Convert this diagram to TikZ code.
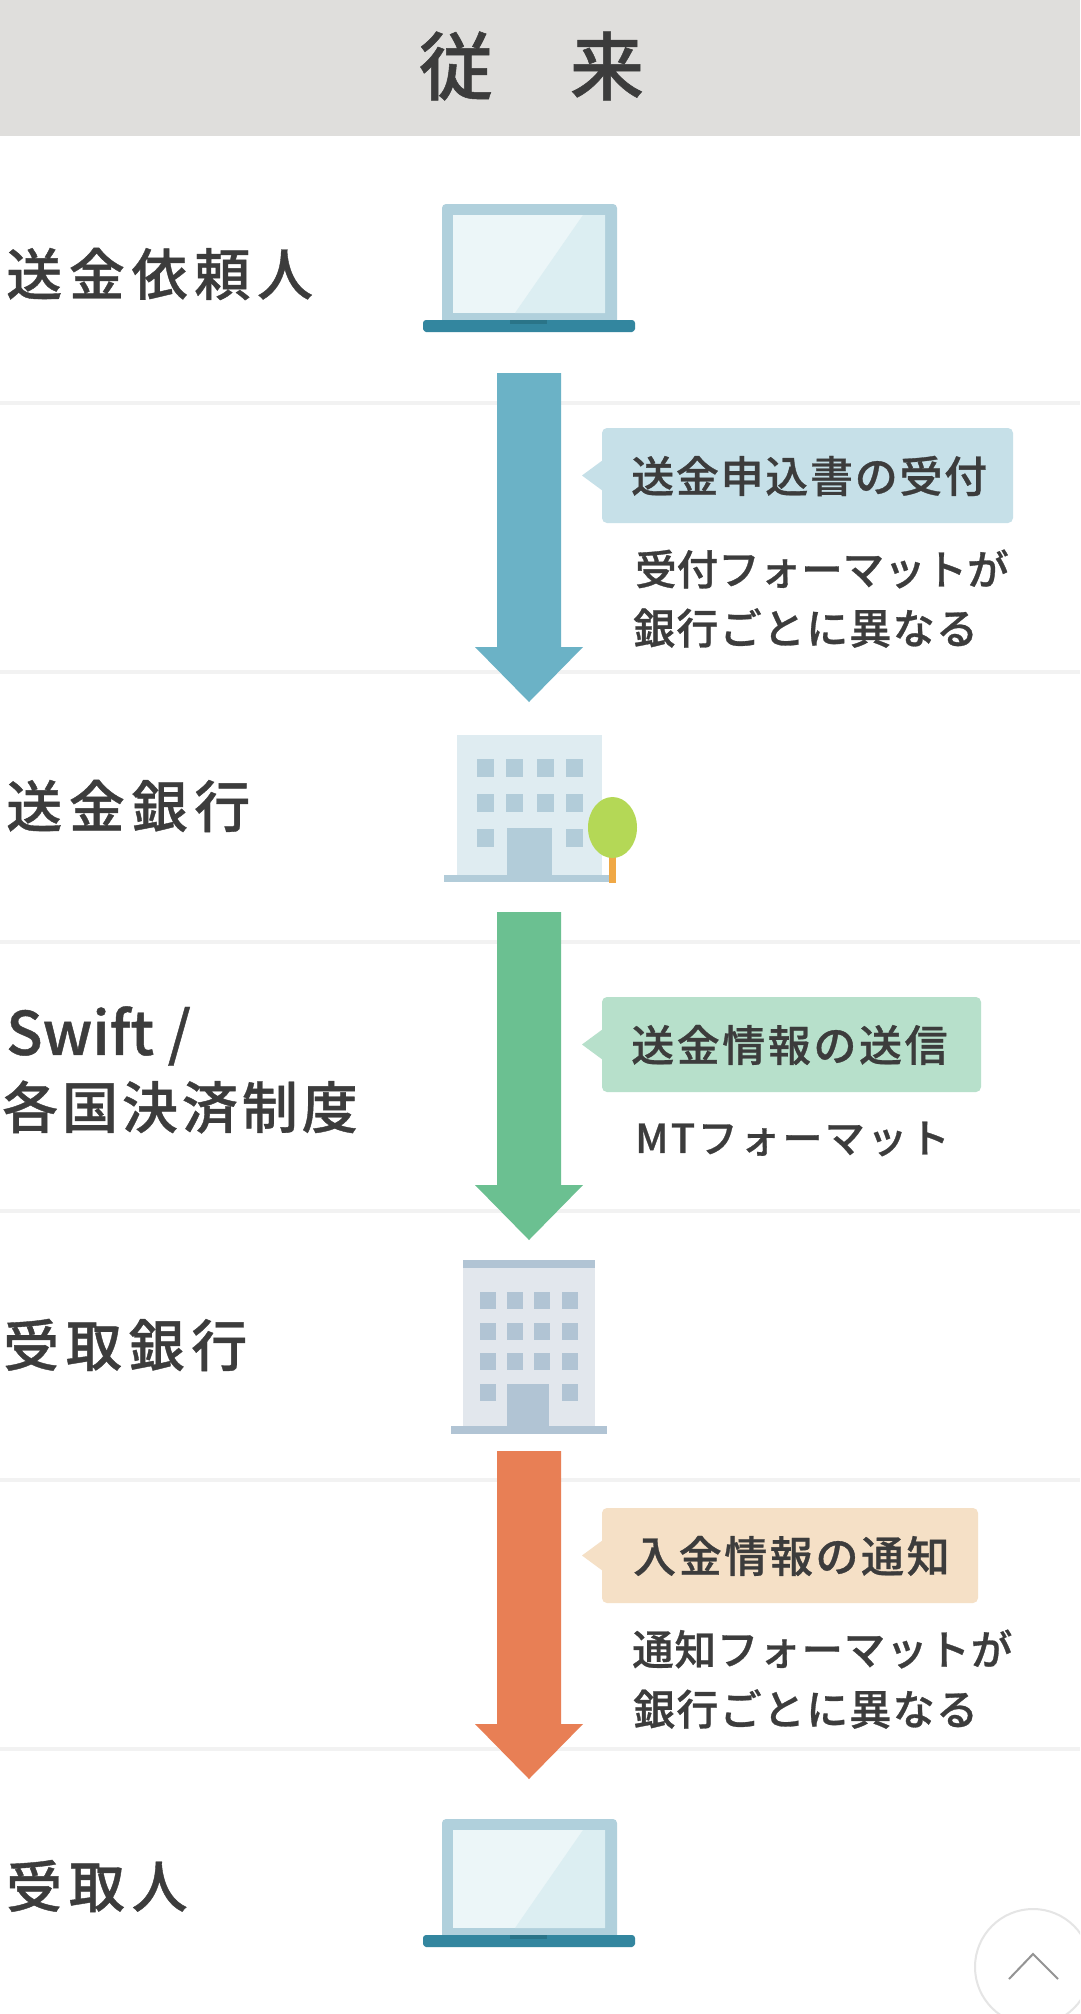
\documentclass[tikz,border=0pt]{standalone}
\usepackage{fontspec}
\setmainfont{Noto Sans CJK JP}
\newfontfamily\hdfont{Noto Sans CJK JP Medium}[LetterSpace=0,FakeBold=0.7]
\newfontfamily\rowfont{Noto Sans CJK JP Medium}[LetterSpace=12,FakeBold=0.7]
\newfontfamily\rowtight{Noto Sans CJK JP Medium}[LetterSpace=7,FakeBold=0.7]
\newfontfamily\lsz{Noto Sans CJK JP Medium}[LetterSpace=0,FakeBold=0.7]
\newfontfamily\lsa{Noto Sans CJK JP Medium}[LetterSpace=2,FakeBold=0.7]
\newfontfamily\lsb{Noto Sans CJK JP Medium}[LetterSpace=3,FakeBold=0.7]
\newfontfamily\lsd{Noto Sans CJK JP Medium}[LetterSpace=4,FakeBold=0.7]
\newfontfamily\lsc{Noto Sans CJK JP Medium}[LetterSpace=6,FakeBold=0.7]
\definecolor{ink}{HTML}{3C3C3C}
\definecolor{headbg}{HTML}{DFDEDC}
\definecolor{sepc}{HTML}{F2F2F2}
\definecolor{arrblue}{HTML}{6BB2C6}
\definecolor{arrgreen}{HTML}{6BC091}
\definecolor{arrorange}{HTML}{E87F55}
\definecolor{tagblue}{HTML}{C6E0E8}
\definecolor{taggreen}{HTML}{B7E0CB}
\definecolor{tagorange}{HTML}{F5E0C6}
\definecolor{lapbody}{HTML}{B0D0DC}
\definecolor{lapscr}{HTML}{ECF6F8}
\definecolor{lapshine}{HTML}{DCEEF2}
\definecolor{lapbase}{HTML}{33869F}
\definecolor{lapnotch}{HTML}{2A7488}
\definecolor{bldA}{HTML}{DFECF1}
\definecolor{winA}{HTML}{B2CCD9}
\definecolor{bldB}{HTML}{E2E7ED}
\definecolor{winB}{HTML}{B1C4D4}
\definecolor{treeg}{HTML}{B4D856}
\definecolor{trunk}{HTML}{F0A845}
\tikzset{
  basetext/.style={inner sep=0pt,text=ink},
  titlelabel/.style={basetext,font=\hdfont\fontsize{74}{80}\selectfont},
  rowlabel/.style={basetext,anchor=west,font=\rowfont\fontsize{56}{60}\selectfont},
  rowtightlabel/.style={basetext,anchor=west,font=\rowtight\fontsize{56}{60}\selectfont},
  latinlabel/.style={basetext,anchor=west,font=\hdfont\fontsize{60}{60}\selectfont},
  taglabel/.style={basetext,anchor=west,font=\lsc\fontsize{43}{44}\selectfont},
  taglong/.style={basetext,anchor=west,font=\lsd\fontsize{43}{44}\selectfont},
  subtight/.style={basetext,anchor=west,font=\lsz\fontsize{41.5}{44}\selectfont},
  subloose/.style={basetext,anchor=west,font=\lsa\fontsize{41.5}{44}\selectfont},
  subwide/.style={basetext,anchor=west,font=\lsb\fontsize{42}{44}\selectfont},
  sublatin/.style={basetext,anchor=west,font=\lsc\fontsize{40}{44}\selectfont},
  sepline/.style={draw=sepc,line width=4pt},
  tagbox/.style={rounded corners=5pt},
}
% arrow: colour, top y, head y, tip y
\newcommand{\bigarr}[4]{\fill[#1] (497,#2) -- (561,#2) -- (561,#3) -- (583,#3) -- (529,#4) -- (475,#3) -- (497,#3) -- cycle;}
% tag: colour, right x, top y, bottom y
\newcommand{\tagbg}[4]{\fill[#1,tagbox] (602,#3) rectangle (#2,#4);
  \fill[#1] (603,{#3+32}) -- (582,{(#3+#4)/2}) -- (603,{#4-32}) -- cycle;}
% laptop with top y
\newcommand{\laptop}[1]{\begin{scope}[yshift=-#1pt]
  \fill[lapbody,rounded corners=4pt] (442,204) rectangle (617,324);
  \fill[lapscr] (453,215) rectangle (605,313);
  \fill[lapshine] (583,215) -- (605,215) -- (605,313) -- (515,313) -- cycle;
  \fill[lapbase,rounded corners=3pt] (423,320) -- (635,320) -- (635,326) .. controls (635,330) and (633,332) .. (629,332) -- (429,332) .. controls (425,332) and (423,330) .. (423,326) -- cycle;
  \fill[lapnotch] (510,320) rectangle (547,324);
\end{scope}}
\begin{document}
\begin{tikzpicture}[x=1pt,y=-1pt]
\path[use as bounding box,clip] (0,0) rectangle (1080,2014);
\fill[white] (0,0) rectangle (1080,2014);
\fill[headbg] (0,0) rectangle (1080,136);
\node[titlelabel] (title1) at (456,66) {従};
\node[titlelabel] (title2) at (607,66) {来};
% separators
\foreach \yy in {403,672,942,1211,1480,1749} \draw[sepline] (0,\yy) -- (1080,\yy);
% arrows
\bigarr{arrblue}{373}{647}{702}
\bigarr{arrgreen}{912}{1185}{1240}
\bigarr{arrorange}{1451}{1724}{1779}
% tags
\tagbg{tagblue}{1013}{428}{523}
\tagbg{taggreen}{981}{997}{1092}
\tagbg{tagorange}{978}{1508}{1603}
% laptops
\laptop{0}
\laptop{1615}
% bank 1
\fill[bldA] (457,735) rectangle (602,877);
\foreach \xx in {477,506,537,566} \foreach \yy in {759,794} \fill[winA] (\xx,\yy) rectangle +(17,18);
\foreach \xx in {477,566} \fill[winA] (\xx,829) rectangle +(17,18);
\fill[winA] (507,828) rectangle (552,877);
\fill[winA] (444,875) rectangle (613,882);
\fill[trunk] (609,850) rectangle (616,883);
\fill[treeg] (612.5,827.5) ellipse [x radius=24.5,y radius=30.5];
% bank 2
\fill[bldB] (463,1260) rectangle (595,1427);
\fill[winB] (463,1260) rectangle (595,1268);
\foreach \xx in {480,507,534,562} \foreach \yy in {1292,1323,1353} \fill[winB] (\xx,\yy) rectangle +(16,17);
\foreach \xx in {480,562} \fill[winB] (\xx,1384) rectangle +(16,17);
\fill[winB] (507,1384) rectangle (549,1427);
\fill[winB] (451,1426) rectangle (607,1434);
% back to top
\draw[draw=black!10,line width=2pt,fill=white] (1033,1967) circle [radius=58];
\draw[draw=black!42,line width=2pt] (1009,1979) -- (1033,1954) -- (1058,1979);
% row labels
\node[rowlabel] (r1) at (6,274) {送金依頼人};
\node[rowlabel] (r2) at (6,806) {送金銀行};
\node[latinlabel] (r3a) at (6,1036) {Swift /};
\node[rowtightlabel] (r3b) at (2,1107) {各国決済制度};
\node[rowlabel] (r4) at (3,1345) {受取銀行};
\node[rowlabel] (r5) at (6,1886) {受取人};
% tags text
\node[taglong] (t1) at (631,476) {送金申込書の受付};
\node[subtight] (s1a) at (635,569) {受付フォーマットが};
\node[subwide] (s1b) at (633,628) {銀行ごとに異なる};
\node[taglabel] (t2) at (631,1045) {送金情報の送信};
\node[sublatin] (s2) at (635,1139) {MTフォーマット};
\node[taglabel] (t3) at (633,1556) {入金情報の通知};
\node[subloose] (s3a) at (632,1649) {通知フォーマットが};
\node[subwide] (s3b) at (633,1709) {銀行ごとに異なる};
\end{tikzpicture}
\end{document}
